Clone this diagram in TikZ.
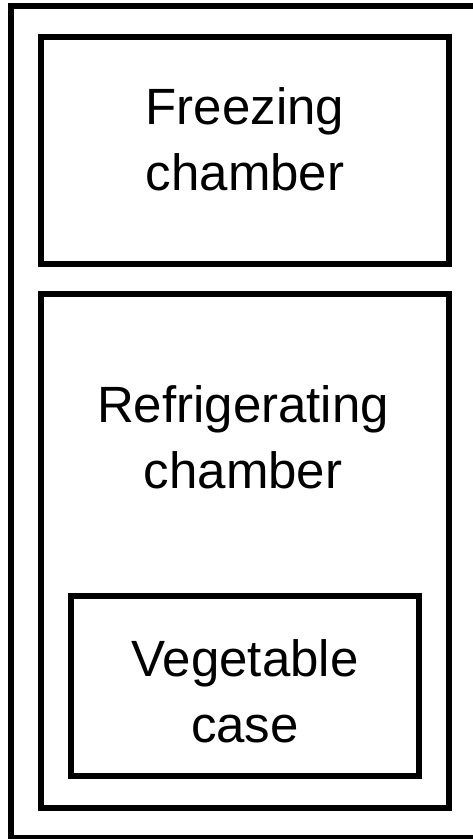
\documentclass[tikz,border=0pt]{standalone}
\usepackage{fontspec}
\setmainfont{Liberation Sans}
\begin{document}
\begin{tikzpicture}[x=1pt,y=-1pt,
  wall/.style={draw=black,line width=6pt,line join=miter},
  caption/.style={font=\fontsize{51}{66}\selectfont,align=center,inner sep=0pt}]
  \useasboundingbox (0,0) rectangle (472,839);
  % cabinet outline, right side runs past the page edge
  \draw[wall] (11,6.3) rectangle (480,838);
  % compartments
  \node[wall,minimum width=408pt,minimum height=227pt,inner sep=0pt] (freezer) at (245,150) {};
  \node[wall,minimum width=408pt,minimum height=514.5pt,inner sep=0pt] (fridge) at (245,551) {};
  \node[wall,minimum width=348pt,minimum height=180pt,inner sep=0pt] (veg) at (245,686) {};
  % labels
  \node[caption] (freezerlabel) at (245,139) {Freezing\\chamber};
  \node[caption] (fridgelabel) at (243,437.5) {Refrigerating\\chamber};
  \node[caption] (veglabel) at (245,691.5) {Vegetable\\case};
\end{tikzpicture}
\end{document}
